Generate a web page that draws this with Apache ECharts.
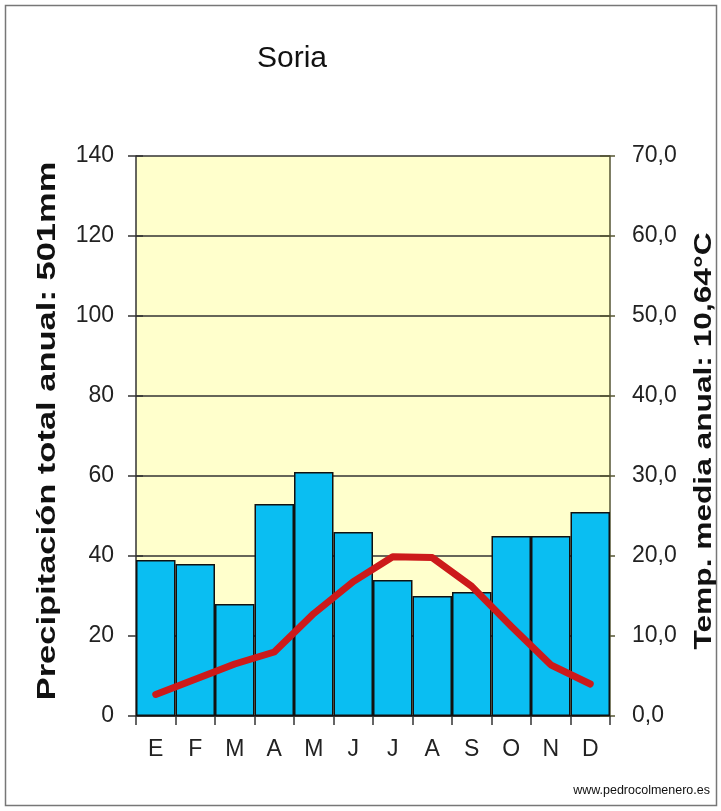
<!DOCTYPE html>
<html><head><meta charset="utf-8">
<script src="https://cdn.jsdelivr.net/npm/echarts@6/dist/echarts.min.js"></script>
<style>html,body{margin:0;padding:0;background:#fff;}#c{width:721px;height:811px;}</style>
</head><body><div id="c"></div>
<script>
const months = ['E','F','M','A','M','J','J','A','S','O','N','D'];
const precipitation = [39, 38, 28, 53, 61, 46, 34, 30, 31, 45, 45, 51];
const temperature = [2.7, 4.6, 6.5, 8.0, 12.8, 16.8, 19.9, 19.8, 16.2, 11.2, 6.4, 4.0];
const precipTicks = [0, 140, 20];
const tempTicks = [0, 70, 10];
const precipTitle = 'Precipitación total anual: 501mm';
const tempTitle = 'Temp. media anual: 10,64°C';

const chart = echarts.init(document.getElementById('c'), null, {renderer: 'canvas'});
const font = '"Liberation Sans", Arial, sans-serif';
const tickStyle = {color: '#333', width: 1.5};
chart.setOption({
  backgroundColor: '#ffffff',
  animation: false,
  title: {
    text: 'Soria', left: 287, top: 39, textAlign: 'center',
    textStyle: {fontFamily: font, fontSize: 30, fontWeight: 'normal', color: '#111'}
  },
  graphic: [
    {type: 'rect', shape: {x: 5.5, y: 5.5, width: 711, height: 800}, style: {fill: 'none', stroke: '#777', lineWidth: 1.5}, z: -1},
    {type: 'text', x: 710, y: 791, style: {text: 'www.pedrocolmenero.es', font: '12.5px ' + font, fill: '#111', align: 'right', verticalAlign: 'middle'}},
    {type: 'text', x: 48, y: 431, rotation: Math.PI / 2, scaleX: 1.38,
      style: {text: precipTitle, font: 'bold 25px ' + font, fill: '#111', align: 'center', verticalAlign: 'middle'}},
    {type: 'text', x: 704, y: 441, rotation: Math.PI / 2, scaleX: 1.32,
      style: {text: tempTitle, font: 'bold 24px ' + font, fill: '#111', align: 'center', verticalAlign: 'middle'}}
  ],
  grid: {left: 136, right: 111, top: 156, bottom: 95, show: true, backgroundColor: '#FFFFCC', borderWidth: 0},
  xAxis: {
    type: 'category', data: months, boundaryGap: true,
    axisLine: {lineStyle: {color: '#222', width: 1.5}},
    axisTick: {show: true, alignWithLabel: false, length: 9, lineStyle: tickStyle},
    axisLabel: {fontFamily: font, fontSize: 23, color: '#222', margin: 22}
  },
  yAxis: [
    {
      type: 'value', min: precipTicks[0], max: precipTicks[1], interval: precipTicks[2], position: 'left',
      axisLine: {show: true, lineStyle: {color: '#333', width: 1.5}},
      axisTick: {show: true, length: 8, lineStyle: tickStyle},
      axisLabel: {fontFamily: font, fontSize: 23, color: '#222', margin: 22},
      splitLine: {show: true, lineStyle: {color: '#333', width: 1.5}}
    },
    {
      type: 'value', min: tempTicks[0], max: tempTicks[1], interval: tempTicks[2], position: 'right',
      axisLine: {show: true, lineStyle: {color: '#555533', width: 1.5}},
      axisTick: {show: true, length: 5, lineStyle: {color: '#555533', width: 1.5}},
      axisLabel: {fontFamily: font, fontSize: 23, color: '#222', margin: 22,
        formatter: v => v.toFixed(1).replace('.', ',')},
      splitLine: {show: false}
    },
    {
      type: 'value', min: precipTicks[0], max: precipTicks[1], interval: precipTicks[2], position: 'left',
      axisLine: {show: false}, axisLabel: {show: false}, splitLine: {show: false},
      axisTick: {show: true, inside: true, length: 7, lineStyle: tickStyle}
    },
    {
      type: 'value', min: tempTicks[0], max: tempTicks[1], interval: tempTicks[2], position: 'right',
      axisLine: {show: false}, axisLabel: {show: false}, splitLine: {show: false},
      axisTick: {show: true, inside: true, length: 10, lineStyle: {color: '#555533', width: 1.5}}
    }
  ],
  series: [
    {
      type: 'bar', yAxisIndex: 0, data: precipitation, barCategoryGap: '0%',
      itemStyle: {color: '#0ABEF2', borderColor: '#111', borderWidth: 1.5}
    },
    {
      type: 'line', yAxisIndex: 1, data: temperature, showSymbol: false, symbol: 'none',
      lineStyle: {color: '#CC1A1A', width: 7, cap: 'round', join: 'round'}, z: 5
    }
  ]
});
</script></body></html>
